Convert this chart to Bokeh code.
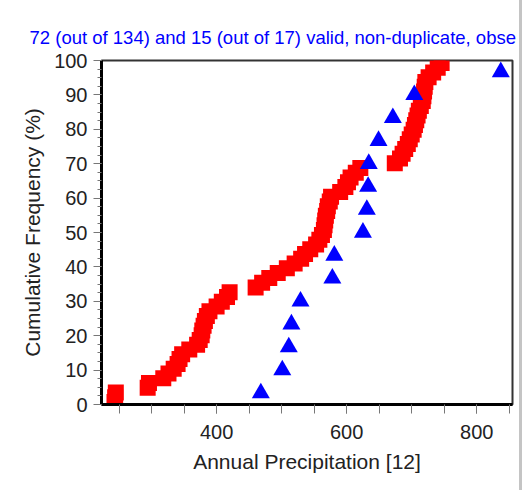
from bokeh.plotting import figure
from bokeh.models import FixedTicker, ColumnDataSource
from bokeh.embed import file_html
from bokeh.resources import INLINE

# Annual precipitation values (sorted)
precip_red = [243, 244, 245,
              294, 296, 318, 326, 334, 340, 343, 347, 358, 370, 374, 377, 378,
              380, 382, 385, 389, 400, 408, 416, 420,
              460, 470, 481, 494, 508, 520, 530, 536, 544, 553, 558, 562, 565,
              566, 567, 568, 570, 571, 574, 576, 590, 598, 602, 606, 614, 621,
              674, 682, 686, 690, 694, 697, 700, 703, 705, 707, 709, 711, 714,
              717, 718, 719, 720, 721, 726, 733, 740, 746]
precip_blue = [468, 501, 511, 515, 529, 578, 581, 625, 631, 633, 634, 649,
               671, 704, 837]

title_text = "72 (out of 134) and 15 (out of 17) valid, non-duplicate, obse"
x_label = "Annual Precipitation [12]"
y_label = "Cumulative Frequency (%)"
x_ticks = [400, 600, 800]
x_minor_ticks = [250, 300, 350, 400, 450, 500, 550, 600, 650, 700, 750, 800, 850]
y_ticks = [0, 10, 20, 30, 40, 50, 60, 70, 80, 90, 100]
y_minor_ticks = [v / 2 for v in range(0, 201, 5)]


def cum_freq(vals):
    n = len(vals)
    return [(i + 0.5) / n * 100 for i in range(n)]


src_red = ColumnDataSource(dict(x=sorted(precip_red), y=cum_freq(precip_red)))
src_blue = ColumnDataSource(dict(x=sorted(precip_blue), y=cum_freq(precip_blue)))

FONT = "Liberation Sans"

p = figure(width=522, height=490, x_range=(223, 855), y_range=(0, 100),
           output_backend="svg", toolbar_location=None,
           min_border_left=101, min_border_right=10, min_border_top=60,
           min_border_bottom=86, title=title_text)

p.title.text_color = "#0000ff"
p.title.text_font = FONT
p.title.text_font_size = "18.5px"
p.title.text_font_style = "normal"
p.title.align = "left"
p.title.offset = -72
p.title.standoff = 25

p.scatter("x", "y", source=src_red, marker="square", size=16,
          fill_color="#ff0000", line_color=None)
p.scatter("x", "y", source=src_blue, marker="triangle", size=18,
          fill_color="#0000ff", line_color=None)

p.grid.visible = False
p.outline_line_color = "#333333"
p.outline_line_width = 2
p.background_fill_color = "white"
p.border_fill_color = "white"

p.xaxis.ticker = FixedTicker(ticks=x_ticks, minor_ticks=x_minor_ticks)
p.yaxis.ticker = FixedTicker(ticks=y_ticks, minor_ticks=y_minor_ticks)

for ax in (p.xaxis[0], p.yaxis[0]):
    ax.axis_line_width = 3
    ax.axis_line_color = "black"
    ax.major_tick_line_color = "#777777"
    ax.minor_tick_line_color = "#777777"
    ax.major_tick_in = 0
    ax.minor_tick_in = 0
    ax.major_label_text_font = FONT
    ax.major_label_text_font_size = "20px"
    ax.major_label_text_color = "#222222"
    ax.axis_label_text_font = FONT
    ax.axis_label_text_font_size = "21px"
    ax.axis_label_text_font_style = "normal"
    ax.axis_label_text_color = "#222222"

p.xaxis.axis_label = x_label
p.yaxis.axis_label = y_label
p.xaxis.major_tick_out = 9
p.xaxis.minor_tick_out = 9
p.yaxis.major_tick_out = 8
p.yaxis.minor_tick_out = 4
p.xaxis.major_label_standoff = 11
p.yaxis.major_label_standoff = 6
p.xaxis.axis_label_standoff = 8
p.yaxis.axis_label_standoff = 7

p.styles = {"border-right": "3px solid #c4c4c4"}

open("out.html", "w").write(file_html(p, INLINE))
